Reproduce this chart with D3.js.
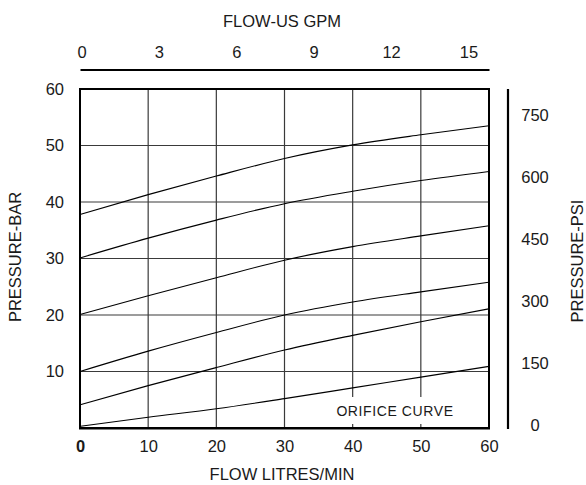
<!DOCTYPE html>
<html>
<head>
<meta charset="utf-8">
<script src="https://cdn.jsdelivr.net/npm/d3@7"></script>
<style>
  body { margin: 0; background: #fff; }
  text { font-family: "Liberation Sans", Arial, sans-serif; fill: #1a1a1a; }
</style>
</head>
<body>
<div id="chart"></div>
<script>
// flow in litres/min, pressure in bar
const flowLpm = [0, 10, 20, 30, 40, 50, 60]
const curveA = [37.8, 41.3, 44.6, 47.7, 50.1, 51.9, 53.5]
const curveB = [30.1, 33.6, 36.8, 39.7, 41.9, 43.8, 45.4]
const curveC = [20.1, 23.4, 26.6, 29.7, 32.1, 34.0, 35.8]
const curveD = [10.0, 13.6, 16.9, 20.0, 22.3, 24.1, 25.8]
const curveE = [4.1, 7.5, 10.7, 13.8, 16.4, 18.8, 21.1]
const orificeCurve = [0.3, 1.9, 3.4, 5.2, 7.1, 9.0, 10.9]

const lpmTicks = [0, 10, 20, 30, 40, 50, 60]
const barTicks = [10, 20, 30, 40, 50, 60]
const gpmTicks = [0, 3, 6, 9, 12, 15]
const psiTicks = [0, 150, 300, 450, 600, 750]
const gridTicks = [10, 20, 30, 40, 50]

const LPM_PER_GPM = 3.785

var width = 586, height = 485
var plot = { left: 80, right: 489, top: 89, bottom: 428 }

let svg = d3.select("#chart")
    .append("svg")
    .attr("width", width)
    .attr("height", height)

var x = d3.scaleLinear().domain([0, 60]).range([plot.left, plot.right])
var y = d3.scaleLinear().domain([0, 60]).range([plot.bottom, plot.top])
var gpm = d3.scaleLinear().domain([0, 60 / LPM_PER_GPM]).range([plot.left, plot.right])
// the psi labels in the original sit on their own spacing
var psi = d3.scaleLinear().domain([0, 750]).range([425, 115])

function styleText(sel, size) {
    sel.style("font-size", size + "px")
        .attr("fill", "#1a1a1a")
}

// grid
svg.append("g").selectAll("line")
    .data(gridTicks)
    .enter().append("line")
    .attr("x1", d => x(d)).attr("x2", d => x(d))
    .attr("y1", plot.top).attr("y2", plot.bottom)
    .attr("stroke", "#3a3a3a").attr("stroke-width", 1.2)

svg.append("g").selectAll("line")
    .data(gridTicks)
    .enter().append("line")
    .attr("x1", plot.left).attr("x2", plot.right)
    .attr("y1", d => y(d)).attr("y2", d => y(d))
    .attr("stroke", "#3a3a3a").attr("stroke-width", 1.2)

// label box for orifice curve (breaks the grid)
svg.append("rect")
    .attr("x", x(38.3)).attr("y", 397)
    .attr("width", x(55) - x(38.3)).attr("height", 27)
    .attr("fill", "#fff")

let orificeLabel = svg.append("text")
    .attr("x", 395)
    .attr("y", 411.5)
    .attr("dy", "0.35em")
    .attr("text-anchor", "middle")
    .style("letter-spacing", "0.6px")
    .text("ORIFICE CURVE")
styleText(orificeLabel, 14)

// curves
var line = d3.line()
    .x((d, i) => x(flowLpm[i]))
    .y(d => y(d))
    .curve(d3.curveMonotoneX)

svg.append("g").selectAll("path")
    .data([curveA, curveB, curveC, curveD, curveE, orificeCurve])
    .enter().append("path")
    .attr("d", line)
    .attr("fill", "none")
    .attr("stroke", "#000")
    .attr("stroke-width", 1.15)

// plot frame
svg.append("rect")
    .attr("x", plot.left).attr("y", plot.top)
    .attr("width", plot.right - plot.left)
    .attr("height", plot.bottom - plot.top)
    .attr("fill", "none")
    .attr("stroke", "#000")
    .attr("stroke-width", 2)
svg.append("line")
    .attr("x1", plot.left - 1).attr("x2", plot.right + 1)
    .attr("y1", plot.bottom + 0.5).attr("y2", plot.bottom + 0.5)
    .attr("stroke", "#000").attr("stroke-width", 2)

// bottom axis (litres/min)
let xAxis = svg.append("g")
    .attr("transform", "translate(0," + plot.bottom + ")")
    .call(d3.axisBottom(x).tickValues(lpmTicks).tickSize(0).tickPadding(12).tickFormat(d3.format("d")))
xAxis.select(".domain").remove()
xAxis.selectAll("text").call(styleText, 16.5)
    .style("font-weight", d => d === 0 ? "bold" : "normal")

// left axis (bar)
let yAxis = svg.append("g")
    .attr("transform", "translate(" + plot.left + ",0)")
    .call(d3.axisLeft(y).tickValues(barTicks).tickSize(0).tickPadding(16))
yAxis.select(".domain").remove()
yAxis.selectAll("text").call(styleText, 16.5)

// top axis (US gpm)
let topAxis = svg.append("g")
    .attr("transform", "translate(0,69.5)")
    .call(d3.axisTop(gpm).tickValues(gpmTicks).tickSize(0).tickSizeOuter(0).tickPadding(12))
topAxis.select(".domain")
    .attr("stroke", "#000").attr("stroke-width", 1.8)
topAxis.selectAll("text").call(styleText, 16.5)
    .attr("x", 1.5)

// right axis (psi)
svg.append("line")
    .attr("x1", 508).attr("x2", 508)
    .attr("y1", plot.top).attr("y2", plot.bottom + 1)
    .attr("stroke", "#000").attr("stroke-width", 2.2)

let psiAxis = svg.append("g")
    .attr("transform", "translate(508,0)")
    .call(d3.axisRight(psi).tickValues(psiTicks).tickSize(0).tickPadding(27))
psiAxis.select(".domain").remove()
psiAxis.selectAll("text").call(styleText, 16.5)
    .attr("text-anchor", "middle")

// titles
let titleTop = svg.append("text")
    .attr("x", 282).attr("y", 21.5).attr("dy", "0.35em")
    .attr("text-anchor", "middle")
    .text("FLOW-US GPM")
styleText(titleTop, 16.5)

let titleBottom = svg.append("text")
    .attr("x", 282).attr("y", 474).attr("dy", "0.35em")
    .attr("text-anchor", "middle")
    .text("FLOW LITRES/MIN")
styleText(titleBottom, 16.5)

let titleLeft = svg.append("text")
    .attr("transform", "translate(15,257) rotate(-90)")
    .attr("dy", "0.35em")
    .attr("text-anchor", "middle")
    .text("PRESSURE-BAR")
styleText(titleLeft, 16.5)

let titleRight = svg.append("text")
    .attr("transform", "translate(577,261) rotate(-90)")
    .attr("dy", "0.35em")
    .attr("text-anchor", "middle")
    .text("PRESSURE-PSI")
styleText(titleRight, 16.5)
</script>
</body>
</html>
